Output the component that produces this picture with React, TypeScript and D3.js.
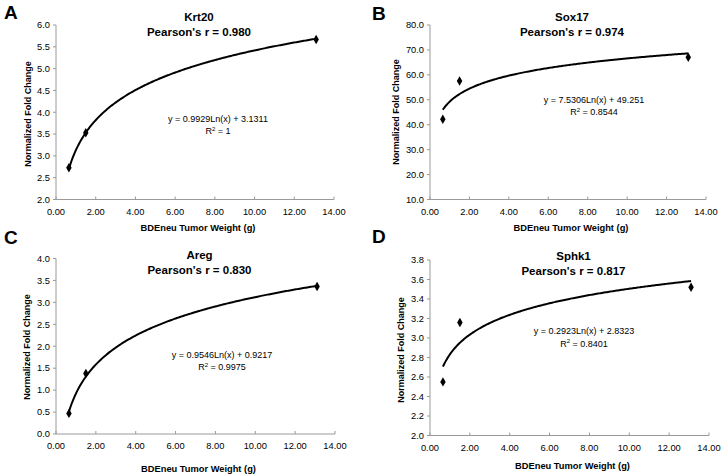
import React from "react";
import * as d3 from "d3";

const weights = [0.65, 1.5, 13.1];
const krt20 = [2.73, 3.53, 5.67];
const sox17 = [42.2, 57.5, 67.1];
const areg = [0.47, 1.38, 3.36];
const sphk1 = [2.55, 3.16, 3.52];

const genes = ["Krt20", "Sox17", "Areg", "Sphk1"];
const letters = ["A", "B", "C", "D"];
const pearson = ["0.980", "0.974", "0.830", "0.817"];
const slopes = [0.9929, 7.5306, 0.9546, 0.2923];
const intercepts = [3.1311, 49.251, 0.9217, 2.8323];
const slopeLabels = ["0.9929", "7.5306", "0.9546", "0.2923"];
const interceptLabels = ["3.1311", "49.251", "0.9217", "2.8323"];
const r2Labels = ["1", "0.8544", "0.9975", "0.8401"];

const xTicks = [0, 2, 4, 6, 8, 10, 12, 14];
const yTicksA = [2.0, 2.5, 3.0, 3.5, 4.0, 4.5, 5.0, 5.5, 6.0];
const yTicksB = [10, 20, 30, 40, 50, 60, 70, 80];
const yTicksC = [0.0, 0.5, 1.0, 1.5, 2.0, 2.5, 3.0, 3.5, 4.0];
const yTicksD = [2.0, 2.2, 2.4, 2.6, 2.8, 3.0, 3.2, 3.4, 3.6, 3.8];

const seriesList = [krt20, sox17, areg, sphk1];
const yTickList = [yTicksA, yTicksB, yTicksC, yTicksD];

// layout (pixels)
const layouts = [
  { left: 56, right: 334, top: 25, bottom: 199.5, letterX: 4, letterY: 18.5, titleY: 20.5, eqX: 218, eqY: 121.5, yLabX: 31, yLabY: 114, xLabY: 231 },
  { left: 430, right: 706, top: 25, bottom: 199.5, letterX: 372, letterY: 19.5, titleY: 20.5, eqX: 594, eqY: 102.5, yLabX: 398.5, yLabY: 112, xLabY: 231 },
  { left: 56, right: 335, top: 258.5, bottom: 434, letterX: 4, letterY: 243.5, titleY: 258.5, eqX: 222, eqY: 357.5, yLabX: 30, yLabY: 347, xLabY: 472 },
  { left: 430, right: 709, top: 260, bottom: 435.5, letterX: 372, letterY: 242.5, titleY: 260, eqX: 584, eqY: 334, yLabX: 404, yLabY: 350, xLabY: 468.5 },
];

const FONT = "'Liberation Sans', Arial, Helvetica, sans-serif";
const AXIS = "#9a9a9a";

function Panel({ i }: { i: number }) {
  const L = layouts[i];
  const yt = yTickList[i];
  const vals = seriesList[i];
  const x = d3.scaleLinear().domain([0, 14]).range([L.left, L.right]);
  const y = d3.scaleLinear().domain([yt[0], yt[yt.length - 1]]).range([L.bottom, L.top]);
  const xmin = d3.min(weights)!;
  const xmax = d3.max(weights)!;
  const samples = d3.range(0, 201).map((k) => xmin + ((xmax - xmin) * k) / 200);
  const line = d3
    .line<number>()
    .x((d) => x(d))
    .y((d) => y(slopes[i] * Math.log(d) + intercepts[i]));
  const diamond = d3.symbol().type(d3.symbolDiamond).size(26)();
  const cx = (L.left + L.right) / 2;
  const yDigits = i === 3 ? 1 : 1;
  return (
    <g>
      <text x={L.letterX} y={L.letterY} fontFamily={FONT} fontWeight="bold" fontSize={19}>
        {letters[i]}
      </text>
      <text x={cx + 4} y={L.titleY} textAnchor="middle" fontFamily={FONT} fontWeight="bold" fontSize={11.5}>
        {genes[i]}
      </text>
      <text x={cx + 4} y={L.titleY + 15} textAnchor="middle" fontFamily={FONT} fontWeight="bold" fontSize={11.5}>
        {`Pearson's r = ${pearson[i]}`}
      </text>
      {/* axes */}
      <line x1={L.left} x2={L.left} y1={L.top} y2={L.bottom} stroke={AXIS} strokeWidth={1} />
      <line x1={L.left} x2={L.right} y1={L.bottom} y2={L.bottom} stroke={AXIS} strokeWidth={1} />
      {yt.map((t) => (
        <g key={"y" + t}>
          <line x1={L.left - 3} x2={L.left} y1={y(t)} y2={y(t)} stroke={AXIS} />
          <text x={L.left - 6} y={y(t) + 3.3} textAnchor="end" fontFamily={FONT} fontSize={9.3}>
            {t.toFixed(yDigits)}
          </text>
        </g>
      ))}
      {xTicks.map((t) => (
        <g key={"x" + t}>
          <line x1={x(t)} x2={x(t)} y1={L.bottom - 3} y2={L.bottom} stroke={AXIS} />
          <text x={x(t)} y={L.bottom + 15} textAnchor="middle" fontFamily={FONT} fontSize={9.3}>
            {t.toFixed(2)}
          </text>
        </g>
      ))}
      <text
        transform={`translate(${L.yLabX},${L.yLabY}) rotate(-90)`}
        textAnchor="middle"
        fontFamily={FONT}
        fontWeight="bold"
        fontSize={9}
      >
        Normalized Fold Change
      </text>
      <text x={cx + 3} y={L.xLabY} textAnchor="middle" fontFamily={FONT} fontWeight="bold" fontSize={9.3}>
        BDEneu Tumor Weight (g)
      </text>
      {/* trendline */}
      <path d={line(samples) || ""} fill="none" stroke="#000" strokeWidth={2} />
      {weights.map((w, k) => (
        <path key={k} d={diamond || ""} transform={`translate(${x(w)},${y(vals[k])})`} fill="#000" />
      ))}
      <text x={L.eqX} y={L.eqY} textAnchor="middle" fontFamily={FONT} fontSize={9}>
        {`y = ${slopeLabels[i]}Ln(x) + ${interceptLabels[i]}`}
      </text>
      <text x={L.eqX} y={L.eqY + 12.5} textAnchor="middle" fontFamily={FONT} fontSize={9}>
        R
        <tspan fontSize={6} dy={-3.5}>
          2
        </tspan>
        <tspan dy={3.5}>{` = ${r2Labels[i]}`}</tspan>
      </text>
    </g>
  );
}

export default function App() {
  return (
    <svg
      width={723}
      height={475}
      style={{ position: "absolute", left: 0, top: 0, background: "#fff" }}
    >
      <rect x={0} y={0} width={723} height={475} fill="#fff" />
      {[0, 1, 2, 3].map((i) => (
        <Panel key={i} i={i} />
      ))}
    </svg>
  );
}
